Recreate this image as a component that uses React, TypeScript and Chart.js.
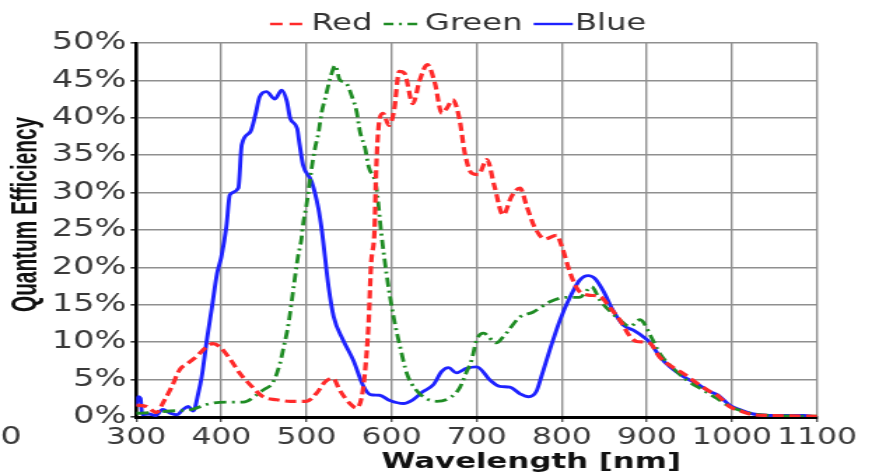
import React, { useEffect, useRef } from 'react';
import { Chart, registerables } from 'chart.js';

Chart.register(...registerables);

// ---------- data (wavelength in nm, quantum efficiency in %) ----------
const redNm = [300, 312, 324, 332, 342, 351, 361, 371, 381, 390, 398, 410, 422, 434, 449, 465, 481, 500, 512, 522, 531, 539, 551, 559, 565, 569, 573, 576, 580, 582, 586, 590, 597, 603, 609, 615, 625, 633, 642, 651, 659, 665, 672, 680, 686, 694, 702, 712, 721, 731, 741, 751, 759, 768, 780, 794, 800, 810, 819, 831, 845, 856, 868, 880, 888, 903, 915, 927, 943, 958, 974, 984, 997, 1010, 1025, 1045, 1100];
const redQE = [1.6, 1.4, 0.6, 2.0, 4.1, 6.3, 7.2, 8.1, 9.2, 9.8, 9.4, 7.8, 5.8, 4.3, 2.7, 2.3, 2.1, 2.1, 3.2, 4.7, 5.2, 3.6, 1.8, 1.2, 2.7, 6.3, 12.5, 20.5, 25.0, 33.2, 39.9, 40.6, 39.0, 41.0, 46.2, 46.0, 41.9, 45.0, 47.1, 44.6, 40.6, 41.3, 42.4, 39.7, 35.3, 32.6, 32.4, 34.4, 30.8, 27.0, 29.5, 30.6, 28.1, 25.4, 23.8, 24.3, 22.8, 19.2, 17.0, 16.3, 16.1, 14.7, 13.0, 10.8, 10.1, 9.9, 8.0, 6.9, 5.8, 4.6, 3.4, 2.8, 1.4, 0.8, 0.3, 0.2, 0.1];

const greenNm = [300, 320, 340, 365, 387, 410, 426, 441, 449, 461, 469, 473, 479, 485, 490, 494, 496, 500, 506, 510, 514, 518, 522, 528, 534, 539, 547, 553, 559, 563, 569, 573, 582, 588, 594, 602, 610, 618, 629, 640, 653, 669, 680, 688, 694, 700, 708, 723, 731, 751, 766, 786, 806, 821, 835, 845, 857, 868, 880, 892, 905, 915, 931, 947, 966, 982, 997, 1012, 1025, 1045, 1100];
const greenQE = [0.5, 0.6, 0.8, 1.0, 1.8, 2.0, 2.0, 2.9, 3.6, 4.7, 7.2, 9.2, 12.5, 17.4, 21.4, 23.7, 25.7, 28.3, 33.2, 35.9, 37.9, 40.8, 42.6, 45.3, 47.0, 45.1, 44.6, 43.0, 40.8, 38.1, 35.9, 33.5, 30.8, 24.5, 19.2, 13.6, 9.4, 5.8, 3.6, 2.5, 2.1, 2.6, 3.9, 6.0, 7.6, 10.3, 11.2, 9.9, 10.7, 13.4, 14.0, 15.4, 16.0, 16.0, 17.4, 15.6, 14.1, 13.0, 12.1, 13.0, 10.7, 8.5, 6.5, 4.9, 3.6, 2.5, 1.4, 0.8, 0.4, 0.2, 0.1];

const blueNm = [300, 302, 305, 307, 315, 323, 331, 340, 348, 355, 361, 367, 373, 377, 383, 389, 395, 400, 406, 410, 420, 424, 434, 440, 445, 453, 463, 471, 477, 481, 489, 492, 496, 506, 514, 518, 526, 532, 543, 555, 567, 575, 586, 598, 614, 625, 637, 649, 659, 667, 676, 688, 700, 716, 727, 739, 751, 761, 770, 776, 786, 798, 810, 821, 831, 839, 849, 860, 872, 884, 896, 904, 915, 927, 943, 958, 974, 984, 997, 1009, 1025, 1044, 1084, 1100];
const blueQE = [1.5, 2.7, 2.5, 0.3, 0.4, 0.2, 1.0, 0.5, 0.3, 1.0, 1.4, 0.8, 3.2, 5.4, 10.3, 14.7, 19.2, 21.4, 25.5, 29.7, 30.6, 36.4, 38.1, 40.4, 42.8, 43.5, 42.5, 43.7, 42.2, 39.9, 38.6, 36.4, 33.7, 31.5, 27.9, 25.0, 17.4, 13.4, 10.3, 7.6, 4.1, 3.0, 2.9, 2.2, 1.8, 2.3, 3.4, 4.3, 6.1, 6.6, 5.9, 6.5, 6.7, 4.9, 4.1, 4.0, 3.1, 2.7, 3.4, 5.4, 9.0, 13.0, 16.1, 18.3, 18.9, 18.5, 16.8, 14.3, 12.3, 11.6, 10.7, 9.9, 8.1, 6.7, 5.4, 4.5, 3.4, 2.9, 1.6, 1.0, 0.4, 0.2, 0.2, 0.0];

const seriesLabels = ['Red', 'Green', 'Blue'];
const xRange = [300, 1100];
const xStep = 100;
const yRange = [0, 50];
const yStep = 5;
const xTitle = 'Wavelength [nm]';
const yTitle = 'Quantum Efficiency';

// canvas is drawn narrow and stretched horizontally, like the reference image
const INNER_W = 623;
const INNER_H = 476;
const CSS_W = 872;

const toPoints = (xs: number[], ys: number[]) => xs.map((x, i) => ({ x, y: ys[i] }));

const overlayPlugin = {
  id: 'overlay',
  afterDraw(chart: any) {
    const { ctx, chartArea: ca } = chart;
    ctx.save();

    // legend
    ctx.font = '23px "DejaVu Sans"';
    ctx.textBaseline = 'middle';
    ctx.textAlign = 'left';
    let lx = ca.left + 0.1965 * (ca.right - ca.left);
    const ly = 24;
    chart.data.datasets.forEach((ds: any) => {
      ctx.save();
      ctx.strokeStyle = ds.borderColor;
      ctx.lineWidth = 2.4;
      ctx.setLineDash(ds.legendDash || []);
      ctx.beginPath();
      ctx.moveTo(lx, ly);
      ctx.lineTo(lx + 28, ly);
      ctx.stroke();
      ctx.restore();
      ctx.fillStyle = '#333';
      ctx.fillText(ds.label, lx + 29.5, ly);
      lx += 29.5 + ctx.measureText(ds.label).width + 8;
    });

    // x title
    ctx.fillStyle = '#111';
    ctx.font = 'bold 22px "DejaVu Sans"';
    ctx.textAlign = 'center';
    ctx.textBaseline = 'middle';
    ctx.fillText(xTitle, ca.left + 0.58 * (ca.right - ca.left), ca.bottom + 45);

    // y title (narrow bold)
    ctx.save();
    ctx.translate(ca.left - 78.4, ca.top + 0.4585 * (ca.bottom - ca.top));
    ctx.rotate(-Math.PI / 2);
    ctx.font = 'bold 25px "Liberation Sans"';
    const w = ctx.measureText(yTitle).width;
    ctx.scale(195 / w, 1);
    ctx.fillText(yTitle, 0, 0);
    ctx.restore();

    // clipped label fragment at the left edge
    ctx.fillStyle = '#3a3a3a';
    ctx.font = '24px "DejaVu Sans"';
    ctx.textAlign = 'right';
    ctx.fillText('0', 15.5, ca.bottom + 21);

    ctx.restore();
  },
};

export default function App() {
  const ref = useRef<HTMLCanvasElement>(null);

  useEffect(() => {
    document.body.style.margin = '0';
    const canvas = ref.current;
    if (!canvas) return;
    const chart = new Chart(canvas, {
      type: 'line',
      data: {
        datasets: [
          {
            label: seriesLabels[0],
            data: toPoints(redNm, redQE),
            borderColor: '#ff2a2a',
            borderWidth: 3.2,
            borderDash: [8, 4],
            legendDash: [9, 5],
          } as any,
          {
            label: seriesLabels[1],
            data: toPoints(greenNm, greenQE),
            borderColor: '#1f8c24',
            borderWidth: 2.8,
            borderDash: [9, 4, 2, 4],
            legendDash: [7, 4, 2, 4],
          } as any,
          {
            label: seriesLabels[2],
            data: toPoints(blueNm, blueQE),
            borderColor: '#1e22ff',
            borderWidth: 2.9,
            legendDash: [],
          } as any,
        ],
      },
      options: {
        animation: false,
        responsive: false,
        devicePixelRatio: 1,
        elements: {
          point: { radius: 0, hoverRadius: 0 },
          line: { cubicInterpolationMode: 'monotone', fill: false },
        },
        layout: { padding: { left: 0, top: 43, right: INNER_W - 583.8, bottom: 0 } },
        plugins: {
          legend: { display: false },
          tooltip: { enabled: false },
          title: { display: false },
        },
        scales: {
          x: {
            type: 'linear',
            min: xRange[0],
            max: xRange[1],
            afterFit: (s: any) => { s.height = 59; },
            ticks: {
              stepSize: xStep,
              color: '#3a3a3a',
              font: { family: '"DejaVu Sans"', size: 22.5 },
              padding: 2.5,
              maxRotation: 0,
              autoSkip: false,
              callback: (v: any) => String(v),
            },
            grid: { color: '#8f8f8f', lineWidth: 1.4, tickLength: 5, tickColor: '#555' },
            border: { color: '#000', width: 3 },
          },
          y: {
            type: 'linear',
            min: yRange[0],
            max: yRange[1],
            afterFit: (s: any) => { s.width = 97.3; },
            ticks: {
              stepSize: yStep,
              color: '#3a3a3a',
              font: { family: '"DejaVu Sans"', size: 24 },
              padding: 3,
              callback: (v: any) => `${v}%`,
            },
            grid: { color: '#8f8f8f', lineWidth: 1.6, tickLength: 4, tickColor: '#333' },
            border: { color: '#000', width: 2.5 },
          },
        },
      },
      plugins: [overlayPlugin],
    });
    return () => chart.destroy();
  }, []);

  return (
    <canvas
      ref={ref}
      width={INNER_W}
      height={INNER_H}
      style={{ width: `${CSS_W}px`, height: `${INNER_H}px`, display: 'block' }}
    />
  );
}
